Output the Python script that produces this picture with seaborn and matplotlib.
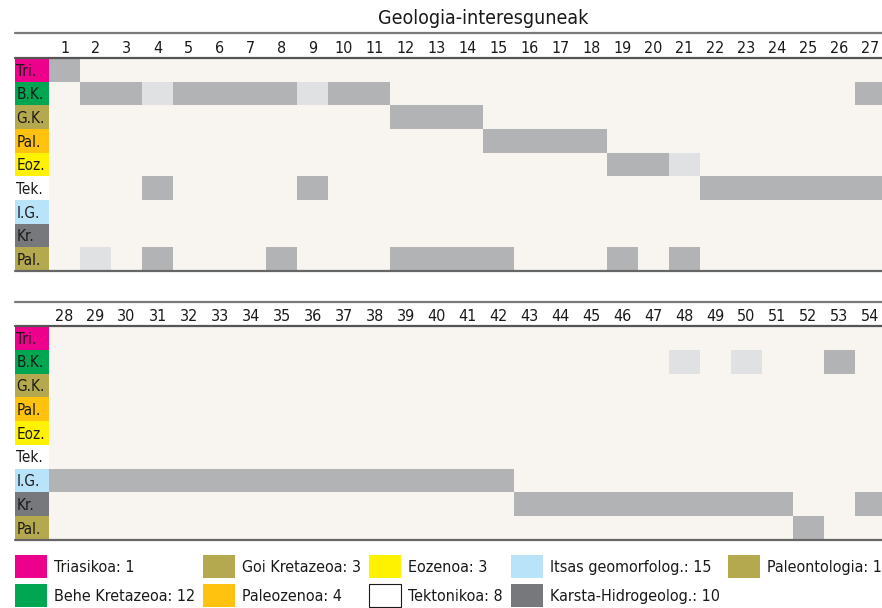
#!/usr/bin/env python3

import numpy as np
import pandas as pd
import matplotlib
matplotlib.use("Agg")
from matplotlib import pyplot as plt
from matplotlib.colors import ListedColormap
from matplotlib.lines import Line2D
import matplotlib.patches as mpatches
import seaborn as sns

sns.set_theme(style="white")
plt.rcParams["font.family"] = ["DejaVu Sans"]
plt.rcParams["font.stretch"] = "condensed"

# --- data -------------------------------------------------------------
columns = list(range(1, 55))
rows = ["Tri.", "B.K.", "G.K.", "Pal.", "Eoz.", "Tek.", "I.G.", "Kr.", "Pal."]
row_colors = ["#EC008C", "#00A651", "#B5A94F", "#FFC20E", "#FFF200",
              "#FFFFFF", "#B9E3F9", "#77787B", "#B5A94F"]

# full (dark) and partial (light) cells per row, by column number
dark_cells = [
    [1],
    [2, 3, 5, 6, 7, 8, 10, 11, 27, 53],
    [12, 13, 14],
    [15, 16, 17, 18],
    [19, 20],
    [4, 9, 22, 23, 24, 25, 26, 27],
    [28, 29, 30, 31, 32, 33, 34, 35, 36, 37, 38, 39, 40, 41, 42],
    [43, 44, 45, 46, 47, 48, 49, 50, 51, 54],
    [4, 8, 12, 13, 14, 15, 19, 21, 52],
]
light_cells = [[], [4, 9, 48, 50], [], [], [21], [], [], [], [2]]

legend_labels = ["Triasikoa: 1", "Behe Kretazeoa: 12", "Goi Kretazeoa: 3",
                 "Paleozenoa: 4", "Eozenoa: 3", "Tektonikoa: 8",
                 "Itsas geomorfolog.: 15", "Karsta-Hidrogeolog.: 10",
                 "Paleontologia: 10"]
legend_colors = ["#EC008C", "#00A651", "#B5A94F", "#FFC20E", "#FFF200",
                 "#FFFFFF", "#B9E3F9", "#77787B", "#B5A94F"]

# --- build matrix -----------------------------------------------------
mat = pd.DataFrame(0, index=range(len(rows)), columns=columns)
for i, (d, l) in enumerate(zip(dark_cells, light_cells)):
    mat.loc[i, d] = 2
    mat.loc[i, l] = 1

cell_cmap = ListedColormap(["#F8F5F0", "#E0E1E2", "#B1B3B4"])
W, H = 882, 608


def fx(px):
    return px / W


def fy(py):
    return 1 - py / H


fig = plt.figure(figsize=(W / 100, H / 100), dpi=100)
fig.patch.set_facecolor("white")

fig.text(fx(483), fy(18), "Geologia-interesguneak", ha="center", va="center",
         fontsize=14, color="#1a1a1a")

panels = [
    # (columns, header top, header bottom, grid bottom)
    (columns[:27], 33, 58, 271),
    (columns[27:], 302, 326, 540),
]

for cols, top, sep, bot in panels:
    ax = fig.add_axes([fx(49), fy(bot), 27 * 31 / W, (bot - sep) / H])
    sns.heatmap(mat[cols], cmap=cell_cmap, vmin=0, vmax=2, cbar=False,
                linewidths=0, xticklabels=cols, yticklabels=False, ax=ax)
    ax.xaxis.tick_top()
    ax.tick_params(axis="x", length=0, pad=1.5, labelsize=11.5,
                   labelcolor="#1a1a1a", labeltop=True, labelbottom=False,
                   rotation=0)
    ax.set_xlabel("")
    ax.set_ylabel("")

    lax = fig.add_axes([fx(15), fy(bot), 34 / W, (bot - sep) / H])
    sns.heatmap(np.arange(len(rows)).reshape(-1, 1),
                cmap=ListedColormap(row_colors), cbar=False,
                xticklabels=False, yticklabels=False, ax=lax)
    for i, lab in enumerate(rows):
        lax.text(0.04, i + 0.55, lab, ha="left", va="center", fontsize=11,
                 color="#1a1a1a")

    fig.add_artist(Line2D([fx(15), 1], [fy(top), fy(top)],
                          transform=fig.transFigure, color="#7a7a7a", lw=1.6))
    fig.add_artist(Line2D([fx(15), 1], [fy(sep), fy(sep)],
                          transform=fig.transFigure, color="#555555", lw=1.6))
    fig.add_artist(Line2D([fx(15), 1], [fy(bot), fy(bot)],
                          transform=fig.transFigure, color="#666666", lw=1.6))

# --- legend -----------------------------------------------------------
handles = []
for lab, c in zip(legend_labels, legend_colors):
    ec = "#1a1a1a" if c == "#FFFFFF" else "none"
    handles.append(mpatches.Patch(facecolor=c, edgecolor=ec, lw=0.8, label=lab))

fs = 11.5
fs_px = fs * 100 / 72
fig.legend(handles=handles, ncol=5, loc="upper left",
           bbox_to_anchor=(fx(15), fy(555)), frameon=False, borderpad=0,
           borderaxespad=0, fontsize=fs, handlelength=32 / fs_px,
           handleheight=(23 / fs_px - 0.245) / 0.65,
           handletextpad=7 / fs_px, labelspacing=6 / fs_px,
           columnspacing=8 / fs_px, labelcolor="#1a1a1a")

fig.savefig("out.png", dpi=100)
